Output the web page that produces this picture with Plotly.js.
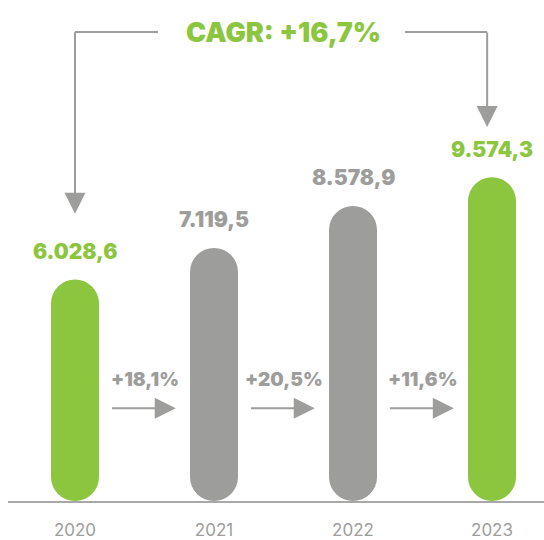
<!DOCTYPE html>
<html>
<head>
<meta charset="utf-8">
<script src="https://cdn.plot.ly/plotly-3.0.1.min.js"></script>
<style>
  body { margin: 0; background: #fff; }
  /* pill shaped bars: thick lines with round ends */
  .scatterlayer .js-line { stroke-linecap: round; }
</style>
</head>
<body>
<div id="myDiv" style="width:544px;height:540px;"></div>
<script>
//---------------------- DATA ---------------------------
var years = ['2020', '2021', '2022', '2023'];
var values = [6028.6, 7119.5, 8578.9, 9574.3];
var valueLabels = ['6.028,6', '7.119,5', '8.578,9', '9.574,3'];
var highlight = [true, false, false, true];
var growth = ['+18,1%', '+20,5%', '+11,6%'];
var cagr = 'CAGR: +16,7%';

var green = '#8cc63f';
var grey = '#9d9d9c';
var font = 'Inter, Roboto, sans-serif';

// bar geometry (pixels)
var barW = 48;
var barR = barW / 2;
var pxPerUnit = 0.0288;
var plotH = 481;

//---------------------- BARS ---------------------------
var data = [];
for (var i = 0; i < years.length; i++) {
  data.push({
    x: [years[i], years[i]],
    y: [0, values[i]],
    type: 'scatter',
    mode: 'lines',
    line: {color: highlight[i] ? green : grey, width: barW},
    hoverinfo: 'skip',
    showlegend: false
  });
}

//---------------------- LABELS ---------------------------
var annotations = [];
var arrow = {text: '', showarrow: true, arrowhead: 2, arrowsize: 2.1, arrowwidth: 2,
  arrowcolor: grey, standoff: 0, startstandoff: 0};

for (var i = 0; i < years.length; i++) {
  annotations.push({
    xref: 'x', yref: 'y', x: i, y: values[i],
    yshift: barR + 28, yanchor: 'middle',
    text: valueLabels[i], showarrow: false,
    font: {family: font, size: 21, weight: 900, color: highlight[i] ? green : grey}
  });
}

for (var i = 0; i < growth.length; i++) {
  annotations.push({
    xref: 'x', yref: 'paper', x: i + 0.5, y: 0.252, yanchor: 'middle',
    text: growth[i], showarrow: false,
    font: {family: font, size: 19, weight: 900, color: grey}
  });
  annotations.push(Object.assign({}, arrow, {
    xref: 'x', yref: 'paper', x: i + 0.725, y: 0.193,
    axref: 'x', ax: i + 0.255, ay: 0
  }));
}

// CAGR title with its bracket
annotations.push({
  xref: 'x', yref: 'paper', x: 1.5, y: 0.975, yanchor: 'middle',
  text: cagr, showarrow: false,
  font: {family: font, size: 27, weight: 900, color: green}
});
annotations.push(Object.assign({}, arrow, {
  xref: 'x', yref: 'paper', x: 0, y: 0.597, ax: 0, ay: -183
}));
annotations.push(Object.assign({}, arrow, {
  xref: 'x', yref: 'paper', x: 2.965, y: 0.7775, ax: 0, ay: -96
}));

var shapes = [
  {type: 'line', xref: 'x', yref: 'paper', x0: 0, x1: 0.597, y0: 0.975, y1: 0.975,
    line: {color: grey, width: 2}},
  {type: 'line', xref: 'x', yref: 'paper', x0: 2.374, x1: 2.965, y0: 0.975, y1: 0.975,
    line: {color: grey, width: 2}}
];

//---------------------- LAYOUT ---------------------------
var layout = {
  width: 544,
  height: 540,
  margin: {l: 8, r: 0, t: 20, b: 39},
  paper_bgcolor: '#fff',
  plot_bgcolor: '#fff',
  showlegend: false,
  xaxis: {
    type: 'category',
    categoryarray: years,
    range: [-0.482, 3.374],
    showgrid: false,
    zeroline: false,
    showline: true,
    linecolor: '#a8a8a8',
    linewidth: 2,
    ticks: '',
    ticklabelstandoff: 13,
    tickfont: {family: font, size: 17, color: grey}
  },
  yaxis: {
    range: [-barR / pxPerUnit, (plotH - barR) / pxPerUnit],
    visible: false,
    showgrid: false,
    zeroline: false
  },
  annotations: annotations,
  shapes: shapes
};

Plotly.newPlot('myDiv', data, layout, {staticPlot: true});
</script>
</body>
</html>
